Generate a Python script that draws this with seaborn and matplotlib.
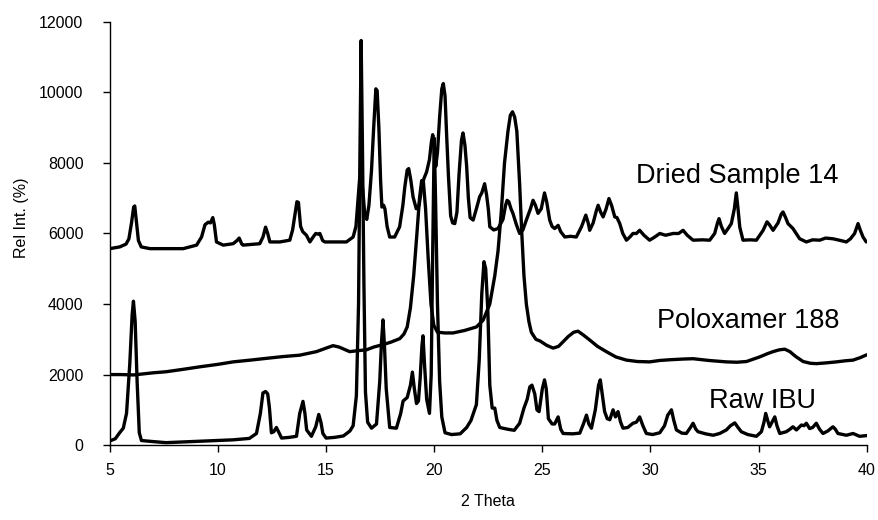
import matplotlib
matplotlib.use("Agg")
import matplotlib.pyplot as plt
import seaborn as sns
import pandas as pd

# ---------------- data ----------------
raw_x = [5.0, 5.25, 5.45, 5.62, 5.77, 5.92, 6.03, 6.09, 6.17, 6.26, 6.36, 6.46, 7.0, 7.6, 8.4, 9.2, 10.0, 10.7,
         11.45, 11.78, 11.96, 12.08, 12.2, 12.3, 12.38, 12.47, 12.58, 12.7, 12.8, 12.94, 13.3, 13.63, 13.78, 13.93,
         14.02, 14.1, 14.32, 14.52, 14.66, 14.76, 14.85, 15.0, 15.4, 15.8, 16.1, 16.25, 16.4, 16.5, 16.56, 16.62,
         16.68, 16.75, 16.82, 16.92, 17.1, 17.33, 17.48, 17.56, 17.63, 17.7, 17.78, 17.94, 18.25, 18.45, 18.56,
         18.75, 18.9, 18.99, 19.08, 19.18, 19.27, 19.35, 19.43, 19.48, 19.55, 19.65, 19.78, 19.86, 19.93, 20.0,
         20.06, 20.15, 20.25, 20.35, 20.5, 20.8, 21.2, 21.5, 21.7, 21.95, 22.08, 22.2, 22.3, 22.38, 22.48, 22.57,
         22.68, 22.8, 22.9, 23.03, 23.4, 23.7, 23.95, 24.15, 24.3, 24.42, 24.52, 24.65, 24.75, 24.85, 25.0, 25.1,
         25.18, 25.28, 25.45, 25.57, 25.73, 25.85, 25.96, 26.4, 26.73, 26.9, 27.04, 27.15, 27.27, 27.45, 27.6,
         27.68, 27.78, 27.88, 28.0, 28.12, 28.27, 28.38, 28.5, 28.62, 28.73, 28.95, 29.19, 29.35, 29.5, 29.65,
         29.81, 30.1, 30.43, 30.65, 30.8, 30.97, 31.08, 31.2, 31.45, 31.66, 31.85, 31.97, 32.1, 32.2, 32.55, 32.9,
         33.2, 33.51, 33.7, 33.9, 34.05, 34.2, 34.5, 34.9, 35.13, 35.25, 35.33, 35.42, 35.51, 35.62, 35.75, 35.85,
         35.98, 36.28, 36.45, 36.59, 36.75, 36.98, 37.1, 37.21, 37.36, 37.5, 37.67, 37.82, 37.98, 38.2, 38.44,
         38.55, 38.67, 39.06, 39.37, 39.67, 40.0]
raw_y = [120, 180, 350, 480, 900, 2300, 3700, 4080, 3500, 1800, 350, 130, 100, 70, 90, 110, 130, 150,
         190, 330, 900, 1480, 1520, 1450, 1050, 350, 380, 500, 380, 200, 220, 250, 900, 1240,
         900, 430, 250, 520, 870, 650, 330, 200, 220, 260, 400, 550, 1400, 4000, 8000, 11470,
         8500, 4500, 1500, 650, 480, 600, 1800, 2900, 3550, 2800, 1600, 500, 480, 900, 1250,
         1350, 1700, 2070, 1600, 1180, 1250, 1900, 2800, 3100, 2300, 1300, 900, 2000, 5500, 8700,
         7000, 4000, 1800, 800, 350, 300, 320, 500, 700, 1150, 2400, 4300, 5200, 5000, 3800, 1700,
         1050, 1050, 700, 500, 450, 420, 620, 1050, 1300, 1650, 1700, 1450, 1000, 950, 1600, 1850,
         1600, 750, 600, 600, 800, 450, 330, 320, 340, 600, 850, 600, 480, 1000, 1700,
         1850, 1400, 950, 750, 720, 1000, 800, 950, 650, 480, 500, 620, 650, 800, 550,
         330, 300, 350, 550, 850, 1000, 700, 430, 340, 330, 500, 620, 450, 380, 320, 280,
         330, 430, 550, 630, 500, 380, 300, 250, 380, 650, 900, 700, 520, 650, 800, 550,
         330, 380, 450, 520, 430, 570, 550, 620, 470, 500, 620, 450, 330, 400, 520,
         450, 330, 280, 330, 250, 270]

polo_x = [5.0, 5.5, 6.1, 7.0, 7.6, 8.4, 9.16, 10.0, 10.7, 11.5, 12.24, 13.0, 13.78, 14.55, 15.0, 15.32, 15.6,
          16.09, 16.5, 16.86, 17.2, 17.63, 18.0, 18.41, 18.6, 18.75, 18.9, 19.05, 19.2, 19.32, 19.42, 19.5, 19.6,
          19.72, 19.85, 19.98, 20.15, 20.5, 20.87, 21.4, 21.95, 22.26, 22.57, 22.8, 22.95, 23.1, 23.25, 23.41,
          23.52, 23.62, 23.72, 23.82, 23.95, 24.05, 24.15, 24.26, 24.38, 24.49, 24.7, 24.9, 25.2, 25.5, 25.75,
          25.96, 26.2, 26.45, 26.65, 26.9, 27.19, 27.55, 27.96, 28.4, 28.89, 29.4, 29.96, 30.43, 30.9, 31.5,
          31.97, 32.7, 33.51, 34.0, 34.44, 35.05, 35.4, 35.67, 35.95, 36.21, 36.45, 36.7, 37.06, 37.4, 37.67,
          38.1, 38.6, 39.0, 39.37, 39.7, 40.0]
polo_y = [2000, 2000, 1990, 2050, 2080, 2150, 2220, 2290, 2360, 2410, 2460, 2510, 2550, 2650, 2750, 2820, 2780,
          2650, 2680, 2700, 2780, 2850, 2920, 3020, 3150, 3350, 3900, 4800, 6000, 7000, 7500, 7450, 6700,
          5300, 4000, 3400, 3200, 3180, 3180, 3250, 3350, 3540, 4000, 4800, 5500, 6600, 8000, 8900,
          9350, 9450, 9300, 8900, 7400, 6000, 4800, 4000, 3500, 3200, 3000, 2950, 2830, 2750, 2800,
          2930, 3080, 3200, 3230, 3120, 2980, 2800, 2650, 2500, 2410, 2370, 2360, 2400, 2420, 2440,
          2450, 2400, 2360, 2350, 2370, 2500, 2590, 2650, 2700, 2720, 2650, 2520, 2370, 2320, 2310,
          2330, 2360, 2390, 2410, 2480, 2560]

dried_x = [5.0, 5.46, 5.75, 5.88, 6.0, 6.1, 6.15, 6.24, 6.32, 6.45, 6.85, 7.6, 8.39, 9.01, 9.24, 9.4, 9.55, 9.65,
           9.76, 9.83, 9.93, 10.24, 10.7, 10.88, 10.98, 11.1, 11.16, 11.93, 12.08, 12.2, 12.3, 12.4, 12.86, 13.32,
           13.45, 13.55, 13.65, 13.72, 13.82, 13.92, 14.09, 14.25, 14.4, 14.52, 14.64, 14.71, 14.84, 14.94, 15.5,
           15.94, 16.25, 16.38, 16.48, 16.55, 16.62, 16.7, 16.78, 16.88, 16.98, 17.1, 17.2, 17.3, 17.36, 17.44,
           17.52, 17.58, 17.66, 17.72, 17.82, 17.94, 18.17, 18.4, 18.55, 18.64, 18.75, 18.82, 18.92, 19.02, 19.17,
           19.3, 19.42, 19.52, 19.65, 19.78, 19.87, 19.93, 20.0, 20.07, 20.15, 20.25, 20.35, 20.42, 20.5, 20.58,
           20.66, 20.76, 20.85, 20.95, 21.05, 21.15, 21.26, 21.33, 21.42, 21.5, 21.58, 21.66, 21.8, 21.95, 22.1,
           22.2, 22.33, 22.42, 22.5, 22.57, 22.75, 22.95, 23.18, 23.3, 23.37, 23.45, 23.55, 23.64, 23.8, 23.95,
           24.1, 24.26, 24.45, 24.57, 24.68, 24.8, 24.95, 25.1, 25.2, 25.34, 25.45, 25.57, 25.73, 25.85, 26.04,
           26.3, 26.57, 26.81, 27.01, 27.12, 27.19, 27.35, 27.5, 27.58, 27.7, 27.81, 27.95, 28.08, 28.2, 28.35,
           28.45, 28.58, 28.72, 28.89, 29.05, 29.19, 29.35, 29.5, 29.7, 29.96, 30.2, 30.43, 30.7, 31.05, 31.3,
           31.51, 31.7, 31.97, 32.4, 32.74, 32.97, 33.1, 33.17, 33.28, 33.43, 33.6, 33.74, 33.88, 33.97, 34.05,
           34.13, 34.28, 34.6, 34.9, 35.21, 35.39, 35.5, 35.67, 35.9, 36.05, 36.13, 36.25, 36.36, 36.59, 36.9,
           37.21, 37.5, 37.83, 38.1, 38.44, 38.8, 39.06, 39.25, 39.44, 39.6, 39.7, 39.83, 39.98]
dried_y = [5570, 5620, 5700, 5850, 6300, 6750, 6780, 6250, 5800, 5620, 5570, 5570, 5570, 5670, 5900, 6250, 6320, 6300,
           6450, 6250, 5760, 5670, 5710, 5800, 5870, 5700, 5670, 5710, 5900, 6180, 6000, 5760, 5760, 5810,
           6100, 6500, 6900, 6880, 6200, 6050, 5950, 5760, 5900, 6000, 5980, 6000, 5800, 5760, 5760,
           5760, 5900, 6200, 7000, 7550, 7650, 7200, 6600, 6400, 6800, 7800, 9000, 10100, 10050, 9000,
           7500, 6750, 6800, 6700, 6200, 5900, 5900, 6190, 6800, 7320, 7800, 7840, 7500, 7040, 6700,
           6800, 7300, 7550, 7750, 8100, 8600, 8800, 8500, 7900, 8300, 9300, 10100, 10250, 9900, 8700,
           7600, 6500, 6300, 6280, 6600, 7700, 8640, 8850, 8500, 7900, 7000, 6450, 6380, 6700, 7040,
           7150, 7410, 7100, 6700, 6190, 6100, 6140, 6400, 6800, 6940, 6900, 6700, 6570, 6250, 6000,
           6100, 6380, 6700, 6940, 6800, 6570, 6700, 7150, 6900, 6380, 6200, 6140, 6230, 6050, 5900,
           5920, 5900, 6190, 6520, 6300, 6090, 6300, 6650, 6800, 6600, 6470, 6700, 6990, 6800, 6470,
           6450, 6280, 6000, 5810, 5900, 6000, 6000, 6090, 5950, 5810, 5900, 6000, 5950, 6000, 6000,
           6090, 5950, 5810, 5820, 5810, 6000, 6300, 6420, 6200, 6000, 6150, 6280, 6700, 7150, 6700,
           6180, 5810, 5820, 5810, 6090, 6330, 6250, 6090, 6300, 6550, 6610, 6450, 6280, 6140, 5850,
           5760, 5820, 5810, 5870, 5850, 5800, 5760, 5850, 6000, 6280, 6100, 5900, 5760]

series_names = ["Dried Sample 14", "Poloxamer 188", "Raw IBU"]
label_x = [34.03, 34.53, 35.17]
label_y = [7420, 3315, 1050]

x_ticks = [5, 10, 15, 20, 25, 30, 35, 40]
y_ticks = [0, 2000, 4000, 6000, 8000, 10000, 12000]

# ---------------- drawing ----------------
sns.set_theme(style="ticks")
plt.rcParams["font.family"] = ["Liberation Sans", "DejaVu Sans"]

fig = plt.figure(figsize=(8.79, 5.20), dpi=100)
ax = fig.add_axes([0.125, 0.144, 0.861, 0.814])

frames = [
    pd.DataFrame({"x": dried_x, "y": dried_y, "s": series_names[0]}),
    pd.DataFrame({"x": polo_x, "y": polo_y, "s": series_names[1]}),
    pd.DataFrame({"x": raw_x, "y": raw_y, "s": series_names[2]}),
]
for df in frames:
    sns.lineplot(data=df, x="x", y="y", ax=ax, color="black", linewidth=2.4,
                 estimator=None, sort=False, legend=False)

for name, lx, ly in zip(series_names, label_x, label_y):
    ax.text(lx, ly, name, ha="center", va="baseline", fontsize=19.5, color="black")

ax.set_xlim(5, 40)
ax.set_ylim(0, 12000)
ax.set_xticks(x_ticks)
ax.set_yticks(y_ticks)
ax.set_xticklabels([str(t) for t in x_ticks])
ax.set_yticklabels([str(t) for t in y_ticks])
ax.tick_params(axis="both", direction="out", length=5, width=1, colors="black",
               labelsize=11.5)
ax.tick_params(axis="y", pad=14)
ax.tick_params(axis="x", pad=8)
for side in ["top", "right"]:
    ax.spines[side].set_visible(False)
for side in ["left", "bottom"]:
    ax.spines[side].set_color("black")
    ax.spines[side].set_linewidth(1.0)

ax.set_xlabel("2 Theta", fontsize=11.5, color="black")
ax.set_ylabel("Rel Int. (%)", fontsize=11.5, color="black")
ax.xaxis.set_label_coords(0.5, -0.115)
ax.yaxis.set_label_coords(-0.107, 0.537)

fig.savefig("out.png", dpi=100, facecolor="white")
